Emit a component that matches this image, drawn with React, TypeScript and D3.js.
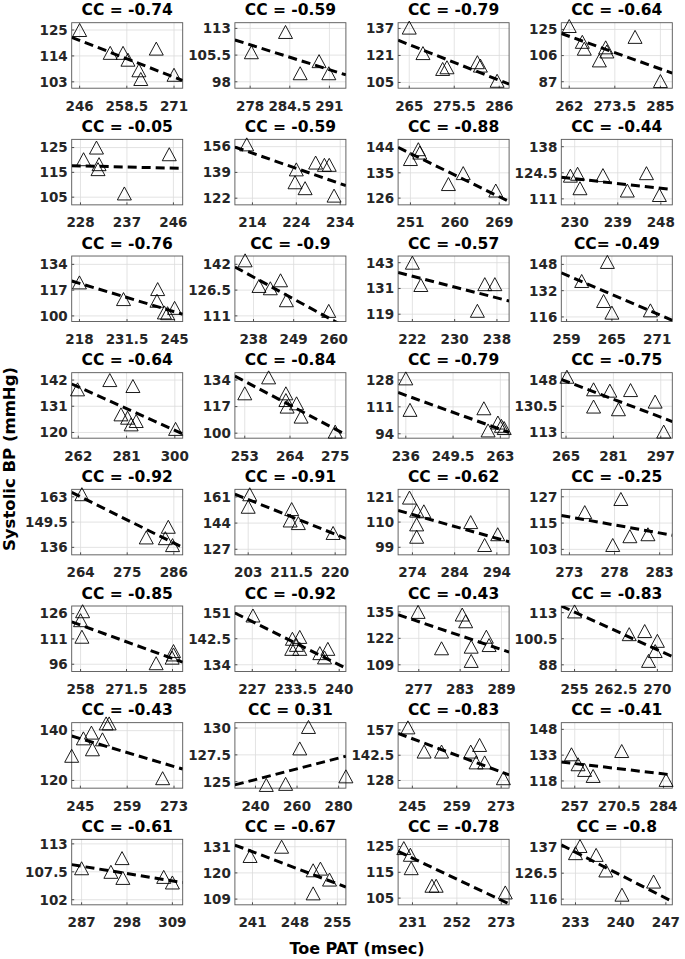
import React from 'react';
import * as d3 from 'd3';

// titles of the 32 subjects (row by row)
const titles = [
  'CC = -0.74', 'CC = -0.59', 'CC = -0.79', 'CC = -0.64',
  'CC = -0.05', 'CC = -0.59', 'CC = -0.88', 'CC = -0.44',
  'CC = -0.76', 'CC = -0.9', 'CC = -0.57', 'CC= -0.49',
  'CC = -0.64', 'CC = -0.84', 'CC = -0.79', 'CC = -0.75',
  'CC = -0.92', 'CC = -0.91', 'CC = -0.62', 'CC = -0.25',
  'CC = -0.85', 'CC = -0.92', 'CC = -0.43', 'CC = -0.83',
  'CC = -0.43', 'CC = 0.31', 'CC = -0.83', 'CC = -0.41',
  'CC = -0.61', 'CC = -0.67', 'CC = -0.78', 'CC = -0.8',
];

const xTicks = [
  [246, 258.5, 271], [278, 284.5, 291], [265, 275.5, 286], [262, 273.5, 285],
  [228, 237, 246], [214, 224, 234], [251, 260, 269], [230, 239, 248],
  [218, 231.5, 245], [238, 249, 260], [222, 230, 238], [259, 265, 271],
  [262, 281, 300], [253, 264, 275], [236, 249.5, 263], [265, 281, 297],
  [264, 275, 286], [203, 211.5, 220], [274, 284, 294], [273, 278, 283],
  [258, 271.5, 285], [227, 233.5, 240], [277, 283, 289], [255, 262.5, 270],
  [245, 259, 273], [240, 260, 280], [245, 259, 273], [257, 270.5, 284],
  [287, 298, 309], [241, 248, 255], [231, 252, 273], [233, 240, 247],
];

const yTicks = [
  [103, 114, 125], [98, 105.5, 113], [105, 121, 137], [87, 106, 125],
  [105, 115, 125], [122, 139, 156], [126, 135, 144], [111, 124.5, 138],
  [100, 117, 134], [111, 126.5, 142], [119, 131, 143], [116, 132, 148],
  [120, 131, 142], [100, 117, 134], [94, 111, 128], [113, 130.5, 148],
  [136, 149.5, 163], [127, 144, 161], [99, 110, 121], [103, 115, 127],
  [96, 111, 126], [134, 142.5, 151], [109, 122, 135], [88, 100.5, 113],
  [120, 140], [125, 127.5, 130], [128, 142.5, 157], [118, 133, 148],
  [102, 107.5, 113], [109, 120, 131], [105, 115, 125], [116, 126.5, 137],
];

const xDomains = [
  [243.9, 273.3], [275.5, 293.7], [262.4, 288.3], [260.0, 288.0],
  [226.3, 247.8], [210.0, 235.3], [248.5, 271.0], [227.2, 250.4],
  [215.8, 247.3], [232.9, 263.3], [219.3, 240.3], [258.3, 273.0],
  [259.4, 303.1], [250.6, 277.6], [233.8, 265.5], [263.4, 300.9],
  [261.9, 288.1], [200.4, 222.1], [270.6, 296.9], [272.1, 284.4],
  [255.4, 288.0], [224.4, 241.0], [274.0, 290.1], [252.6, 272.7],
  [242.4, 275.6], [230.1, 283.5], [240.5, 275.5], [252.9, 286.7],
  [284.6, 311.5], [238.1, 256.4], [224.2, 276.7], [230.8, 248.0],
];

const yDomains = [
  [100.3, 128.1], [96.2, 114.6], [101.6, 140.4], [82.3, 129.9],
  [101.9, 128.3], [117.6, 160.8], [123.6, 146.9], [107.9, 141.8],
  [96.3, 139.5], [107.6, 147.0], [115.6, 146.1], [113.2, 153.1],
  [117.6, 145.1], [96.8, 138.7], [91.2, 132.6], [109.2, 152.9],
  [132.0, 167.0], [123.4, 165.9], [95.7, 124.3], [100.5, 130.4],
  [91.7, 130.5], [131.8, 153.2], [105.7, 137.9], [84.8, 116.2],
  [116.9, 143.2], [124.4, 130.5], [123.6, 161.2], [113.8, 151.9],
  [101.0, 113.9], [106.6, 134.1], [102.4, 127.8], [113.7, 140.2],
];

// Toe PAT (msec) of each beat group
const patValues = [
  [246, 254.1, 257.5, 258.8, 261.7, 262.2, 266.3, 271],
  [278.2, 283.8, 286.2, 289.3, 290.9],
  [265, 268.2, 272.8, 273.8, 280.9, 281.6, 285.5],
  [262, 265.3, 265.8, 269.6, 271.2, 271.5, 278.6, 285],
  [228.6, 231.1, 231.6, 231.4, 236.5, 245.2],
  [212.7, 224, 223.7, 226, 228.4, 230.4, 231.5, 232.6],
  [251, 252.6, 252.9, 258.7, 261.7, 268.3],
  [229.1, 230.6, 231.1, 235.9, 241, 245, 247.7],
  [218, 230.5, 240.2, 240, 242.1, 243, 245],
  [235.7, 239.5, 242.6, 245.4, 247, 258.6],
  [222, 223.6, 234.3, 235.7, 237.6],
  [261, 264.4, 263.9, 265, 270.1],
  [261.7, 274.4, 283.5, 278.8, 281.4, 282.8, 284.8, 300.3],
  [253, 258.8, 263, 263, 263.3, 265.6, 266.7, 275],
  [236, 237.2, 258.3, 259.5, 262.3, 263.3, 264.1],
  [265.3, 274.3, 274.3, 279.8, 282.7, 286.8, 295.1, 298],
  [264.3, 279.5, 284.7, 284, 285.7],
  [203.3, 203, 211.5, 211.2, 212.8, 219.6],
  [273.3, 275, 276.7, 275, 275, 287.8, 291.1, 294.2],
  [274.7, 277.8, 278.7, 279.7, 281.7],
  [258.6, 258, 258.4, 280.2, 285.3, 285.3, 284.9],
  [227.1, 233, 233.6, 234.1, 232.9, 234.1, 237.1, 237.8, 238.3],
  [276.9, 280.3, 283.3, 283.8, 284.6, 284.6, 286.8, 287.2],
  [255, 264.9, 267.7, 270, 269.6, 268.4],
  [242.4, 245.9, 248.3, 248.6, 251.6, 252.7, 253.6, 269.6],
  [245.2, 254.5, 261.3, 265.5, 283.5],
  [243.6, 248.7, 254.2, 263.4, 266.2, 265.1, 267.8, 273.7],
  [256, 258, 260, 262.6, 271.3, 284.8],
  [287, 294.1, 296.8, 297, 306.9, 309],
  [240.6, 245.8, 251, 252.2, 251, 253.7],
  [226.9, 230, 230.4, 240.2, 242.2, 274.9],
  [233, 233.7, 236.2, 237.7, 240.2, 245.1],
];

// Systolic BP (mmHg), same order
const bpValues = [
  [125, 115.3, 115.3, 112.4, 107.9, 104.2, 117.1, 106],
  [106.3, 112, 100.4, 103.8, 100.4],
  [137.5, 122.4, 113, 114, 117, 115, 106],
  [127.5, 116, 111, 102.5, 112, 109, 119.6, 87.5],
  [120.3, 125, 118.3, 116.3, 106.5, 122.3],
  [157.5, 141, 132.5, 128.6, 145.5, 144, 144, 123.7],
  [139.9, 143.4, 142.2, 131, 134.9, 128.7],
  [123, 124, 116.5, 123.3, 115.3, 124.3, 113],
  [122.1, 111.1, 117.7, 110, 102.3, 101.8, 105.3],
  [144.4, 129, 127.6, 132.4, 120.4, 114],
  [143, 132.6, 120.6, 133, 133],
  [137.9, 149.5, 125.7, 118.6, 120],
  [138.1, 142, 139.5, 127.6, 126.2, 123.4, 124.8, 121.5],
  [125.5, 135.7, 125.5, 121.2, 117, 119.1, 110.6, 101],
  [129, 109.1, 110.1, 96.1, 101.1, 99, 97.6],
  [150.2, 141.8, 130.3, 140.9, 128.5, 141.3, 133.6, 113.6],
  [164.4, 141.3, 147, 140.9, 137.2],
  [162.7, 154.6, 153.1, 145.7, 144, 137.6],
  [120.7, 115, 114.7, 109, 103.6, 110, 100, 104.7],
  [120, 105, 126, 109, 109.9],
  [127.4, 122.1, 112.3, 96.6, 103.8, 101.8, 99.9],
  [150.1, 142.5, 140.5, 143.1, 139.2, 139.2, 137.8, 136.4, 139.2],
  [135, 117.1, 133.7, 130.4, 117.9, 110.9, 122.8, 118.7],
  [113.6, 102.7, 104.2, 99.5, 94.6, 89.9],
  [129.9, 136.9, 139.2, 132.5, 136.5, 142.9, 142.9, 120.9],
  [124.7, 124.8, 128.1, 130.1, 125.5],
  [158.5, 144.6, 144.6, 144.6, 148.4, 138.4, 138.4, 129.3],
  [133.5, 127.7, 124.4, 120.9, 135.4, 118.6],
  [108.2, 107.5, 110.2, 106.3, 106.5, 105.4],
  [127.1, 131, 121.1, 121.8, 111.4, 117.2],
  [124.4, 121.8, 116.6, 109.8, 109.8, 107.2],
  [134.6, 137.5, 133.9, 127.6, 117.8, 123.1],
];

// regression line: BP at the first and last x tick
const fitY = [
  [120.6, 105], [108.4, 101.4], [127.4, 106.3], [120, 96.3],
  [117.6, 116.7], [151.7, 131.6], [141.9, 126.5], [121.4, 116.5],
  [121.5, 102.7], [134.3, 108], [136.7, 126.6], [141.5, 117.9],
  [139.1, 120.9], [133.2, 102.6], [118.3, 96.8], [147.2, 123.2],
  [163, 138.3], [159.3, 136.8], [113.3, 102.9], [117.8, 110.5],
  [119.2, 99.4], [148.1, 134], [130.2, 116.5], [113.3, 95.2],
  [136.8, 125.6], [125.2, 127.2], [152, 132.9], [128.1, 122.1],
  [108.6, 105.7], [128.9, 115.4], [120.5, 104.2], [135, 116.4],
];

const W = 685;
const H = 959;
const left0 = 71.7;
const top0 = 22.7;
const colStep = 163.2;
const rowStep = 116.66;
const boxW = 111;
const boxH = 65.5;
const FONT = '"DejaVu Sans", Verdana, sans-serif';
const AXIS = '#262626';

// upward triangle marker, 14 wide x 13 tall
const triangle = 'M0,-6.5L7,6.5L-7,6.5Z';

function Panel({ i }: { i: number }) {
  const r = Math.floor(i / 4);
  const c = i % 4;
  const x0 = left0 + c * colStep;
  const y0 = top0 + r * rowStep;

  const x = d3.scaleLinear().domain(xDomains[i]).range([x0, x0 + boxW]);
  const y = d3.scaleLinear().domain(yDomains[i]).range([y0 + boxH, y0]);

  const xt = xTicks[i];
  const yt = yTicks[i];
  const fit = d3.scaleLinear().domain([xt[0], xt[xt.length - 1]]).range(fitY[i]);
  const line = d3.line<number>().x((d) => x(d)).y((d) => y(fit(d)));

  const pts = d3.zip(patValues[i], bpValues[i]);

  return (
    <g>
      <clipPath id={`clip${i}`}>
        <rect x={x0} y={y0} width={boxW} height={boxH} />
      </clipPath>
      <rect x={x0} y={y0} width={boxW} height={boxH} fill="#fff" />
      {/* grid */}
      {xt.map((t) => (
        <line key={'gx' + t} x1={x(t)} x2={x(t)} y1={y0} y2={y0 + boxH} stroke="#dcdcdc" strokeWidth={0.8} />
      ))}
      {yt.map((t) => (
        <line key={'gy' + t} x1={x0} x2={x0 + boxW} y1={y(t)} y2={y(t)} stroke="#dcdcdc" strokeWidth={0.8} />
      ))}
      {/* ticks */}
      {xt.map((t) => (
        <line key={'tx' + t} x1={x(t)} x2={x(t)} y1={y0 + boxH} y2={y0 + boxH - 2.5} stroke={AXIS} strokeWidth={0.8} />
      ))}
      {yt.map((t) => (
        <line key={'ty' + t} x1={x0} x2={x0 + 2.5} y1={y(t)} y2={y(t)} stroke={AXIS} strokeWidth={0.8} />
      ))}
      <rect x={x0} y={y0} width={boxW} height={boxH} fill="none" stroke="#555" strokeWidth={0.9} />
      {/* regression */}
      <path
        d={line(xDomains[i]) ?? ''}
        clipPath={`url(#clip${i})`}
        fill="none"
        stroke="#000"
        strokeWidth={3}
        strokeDasharray="9 5"
      />
      {/* points */}
      {pts.map(([px, py], k) => (
        <path
          key={k}
          d={triangle}
          transform={`translate(${x(px)},${y(py)})`}
          fill="none"
          stroke="#000"
          strokeWidth={0.9}
        />
      ))}
      {/* labels */}
      {xt.map((t) => (
        <text key={'lx' + t} x={x(t)} y={y0 + boxH + 22.5} textAnchor="middle" fontSize={13.5} fontWeight="bold" fill={AXIS}>
          {t}
        </text>
      ))}
      {yt.map((t) => (
        <text key={'ly' + t} x={x0 - 4} y={y(t)} dy="0.36em" textAnchor="end" fontSize={13.5} fontWeight="bold" fill={AXIS}>
          {t}
        </text>
      ))}
      <text x={x0 + boxW / 2} y={y0 - 7.5} textAnchor="middle" fontSize={15.5} fontWeight="bold" fill="#000">
        {titles[i]}
      </text>
    </g>
  );
}

export default function App() {
  return (
    <svg
      width={W}
      height={H}
      style={{ position: 'absolute', left: 0, top: 0, background: '#fff' }}
      fontFamily={FONT}
    >
      <rect width={W} height={H} fill="#fff" />
      {titles.map((_, i) => (
        <Panel key={i} i={i} />
      ))}
      <text
        transform="translate(15,459) rotate(-90)"
        textAnchor="middle"
        fontSize={16.5}
        fontWeight="bold"
        fill="#000"
      >
        Systolic BP (mmHg)
      </text>
      <text x={357} y={954} textAnchor="middle" fontSize={16} fontWeight="bold" fill="#000">
        Toe PAT (msec)
      </text>
    </svg>
  );
}
